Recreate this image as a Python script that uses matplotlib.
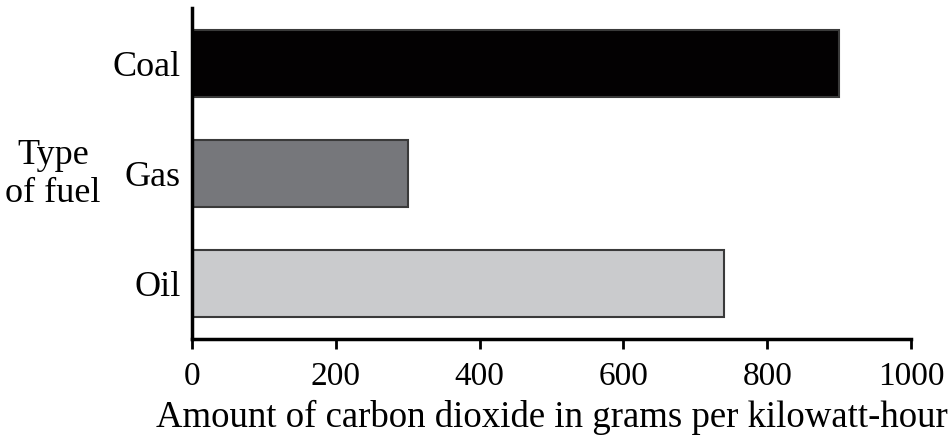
import matplotlib
matplotlib.use("Agg")
import matplotlib.pyplot as plt

fuels = ["Oil", "Gas", "Coal"]
co2 = [740, 300, 900]
colors = ["#cacbcd", "#76777b", "#030102"]
xticks = [0, 200, 400, 600, 800, 1000]
xlabel = "Amount of carbon dioxide in grams per kilowatt-hour"
ylabel = "Type\nof fuel"

plt.rcParams['font.family'] = ['Liberation Serif', 'DejaVu Serif']

fig = plt.figure(figsize=(9.52, 4.38), dpi=100)
ax = fig.add_axes([192/952, 1 - 339/438, (911-192)/952, (339-8)/438])

ax.barh(range(len(fuels)), co2, height=0.61, color=colors,
        edgecolor="#3a3a3a", linewidth=1.5)

ax.set_xlim(0, 1000)
ax.set_ylim(-0.51, 2.51)
ax.set_yticks(range(len(fuels)))
ax.set_yticklabels(fuels, fontsize=26)
ax.set_xticks(xticks)
ax.set_xticklabels([str(t) for t in xticks], fontsize=24)
ax.tick_params(axis='y', length=0, pad=8)
ax.tick_params(axis='x', length=7, width=2, pad=9, direction='out')

for s in ['top', 'right']:
    ax.spines[s].set_visible(False)
ax.spines['left'].set_linewidth(2.5)
ax.spines['bottom'].set_linewidth(2.5)

ax.set_xlabel(xlabel, fontsize=26.5, labelpad=6)
fig.text(53/952, 1 - 174/438, ylabel, fontsize=26, ha='center', va='center',
         linespacing=1.2)

fig.savefig("out.png", dpi=100)
